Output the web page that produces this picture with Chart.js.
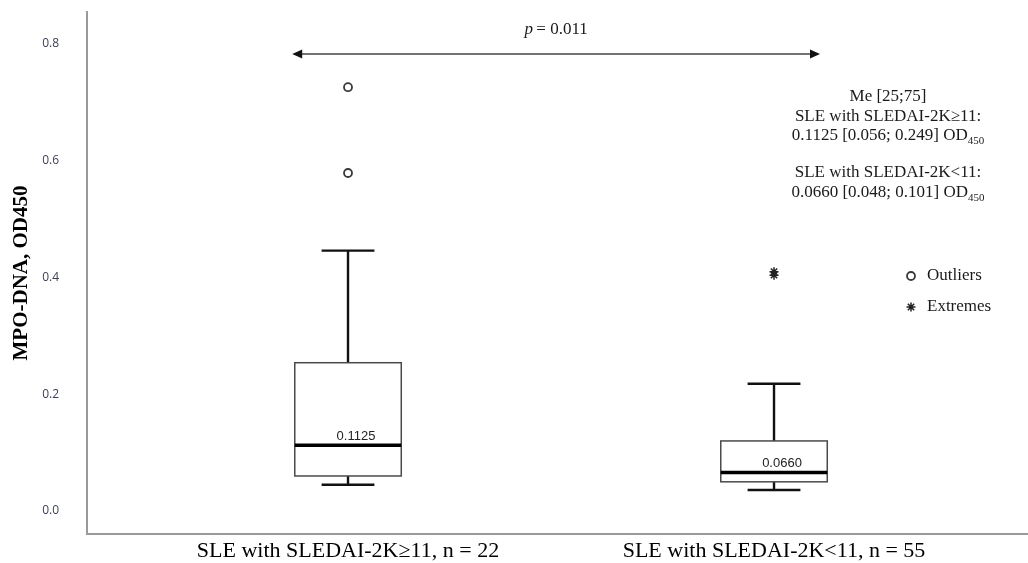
<!DOCTYPE html>
<html>
<head>
<meta charset="utf-8">
<script src="https://cdn.jsdelivr.net/npm/chart.js@4.4.0/dist/chart.umd.min.js"></script>
<style>
  html, body { margin: 0; padding: 0; background: #ffffff; }
  #wrap { width: 1028px; height: 563px; }
</style>
</head>
<body>
<div id="wrap"><canvas id="c" width="1028" height="563"></canvas></div>
<script>
// Groups and their box-plot summaries (MPO-DNA, OD450)
const groups = ['SLE with SLEDAI-2K\u226511, n = 22', 'SLE with SLEDAI-2K<11, n = 55'];
const groupPos = [1, 2];
const whiskerLow = [0.045, 0.036];
const quartile1 = [0.060, 0.050];
const medians = [0.1125, 0.0660];
const quartile3 = [0.254, 0.120];
const whiskerHigh = [0.446, 0.218];
const outlierValues = [[0.726, 0.579], []];
const extremeValues = [[], [0.404, 0.410]];
const yTicks = [0.0, 0.2, 0.4, 0.6, 0.8];
const pValue = '0.011';
const medianLabels = ['0.1125', '0.0660'];
const summaryTitle = 'Me [25;75]';
const summaryGroups = ['SLE with SLEDAI-2K\u226511:', 'SLE with SLEDAI-2K<11:'];
const summaryValues = ['0.1125 [0.056; 0.249] OD', '0.0660 [0.048; 0.101] OD'];
const legendLabels = ['Outliers', 'Extremes'];

const serif = '"Liberation Serif", "Times New Roman", serif';
const sans = '"Liberation Sans", Arial, sans-serif';

function toPoints(lists) {
  const pts = [];
  lists.forEach((vals, i) => vals.forEach(v => pts.push({ x: groupPos[i], y: v })));
  return pts;
}

const outlierStyle = { pointStyle: 'circle', radius: 4, borderWidth: 1.8, borderColor: '#3a3a3a', backgroundColor: '#ffffff' };
const extremeStyle = { pointStyle: 'star', radius: 4.5, borderWidth: 1.5, borderColor: '#222222', backgroundColor: '#222222' };

// Boxes, whiskers and median labels, drawn through the chart's scales
const boxPlugin = {
  id: 'boxes',
  beforeDatasetsDraw(chart) {
    const { ctx, scales: { x, y } } = chart;
    const halfBox = 0.125, halfCap = 0.062;
    ctx.save();
    groupPos.forEach((g, i) => {
      const cx = x.getPixelForValue(g);
      const bl = x.getPixelForValue(g - halfBox), br = x.getPixelForValue(g + halfBox);
      const cl = x.getPixelForValue(g - halfCap), cr = x.getPixelForValue(g + halfCap);
      const yLo = y.getPixelForValue(whiskerLow[i]);
      const yQ1 = y.getPixelForValue(quartile1[i]);
      const yMed = y.getPixelForValue(medians[i]);
      const yQ3 = y.getPixelForValue(quartile3[i]);
      const yHi = y.getPixelForValue(whiskerHigh[i]);

      // whiskers
      ctx.strokeStyle = '#111111';
      ctx.lineWidth = 2.4;
      ctx.beginPath();
      ctx.moveTo(cx, yQ3); ctx.lineTo(cx, yHi);
      ctx.moveTo(cl, yHi); ctx.lineTo(cr, yHi);
      ctx.moveTo(cx, yQ1); ctx.lineTo(cx, yLo);
      ctx.moveTo(cl, yLo); ctx.lineTo(cr, yLo);
      ctx.stroke();

      // box
      ctx.fillStyle = '#ffffff';
      ctx.fillRect(bl, yQ3, br - bl, yQ1 - yQ3);
      ctx.strokeStyle = '#4a4a4a';
      ctx.lineWidth = 1.5;
      ctx.strokeRect(bl, yQ3, br - bl, yQ1 - yQ3);

      // median
      ctx.strokeStyle = '#000000';
      ctx.lineWidth = 3.5;
      ctx.beginPath();
      ctx.moveTo(bl, yMed); ctx.lineTo(br, yMed);
      ctx.stroke();

      ctx.fillStyle = '#222222';
      ctx.font = '13px ' + sans;
      ctx.textAlign = 'center';
      ctx.textBaseline = 'alphabetic';
      ctx.fillText(medianLabels[i], cx + 8, yMed - 5);
    });
    ctx.restore();
  }
};

function drawWithSub(ctx, main, sub, cx, cy, size) {
  ctx.font = size + 'px ' + serif;
  const wMain = ctx.measureText(main).width;
  ctx.font = Math.round(size * 0.62) + 'px ' + serif;
  const wSub = ctx.measureText(sub).width;
  const left = cx - (wMain + wSub) / 2;
  ctx.textAlign = 'left';
  ctx.textBaseline = 'middle';
  ctx.font = size + 'px ' + serif;
  ctx.fillText(main, left, cy);
  ctx.font = Math.round(size * 0.62) + 'px ' + serif;
  ctx.fillText(sub, left + wMain, cy + size * 0.32);
}

// Significance arrow, summary text and legend
const notesPlugin = {
  id: 'notes',
  afterDraw(chart) {
    const { ctx, chartArea, scales: { x, y } } = chart;
    ctx.save();

    // double-headed arrow between the groups
    const ax1 = x.getPixelForValue(0.869), ax2 = x.getPixelForValue(2.108);
    const ay = y.getPixelForValue(0.783);
    ctx.strokeStyle = '#444444';
    ctx.fillStyle = '#111111';
    ctx.lineWidth = 1.5;
    ctx.beginPath();
    ctx.moveTo(ax1 + 6, ay); ctx.lineTo(ax2 - 6, ay);
    ctx.stroke();
    ctx.beginPath();
    ctx.moveTo(ax1, ay); ctx.lineTo(ax1 + 10, ay - 4.5); ctx.lineTo(ax1 + 10, ay + 4.5); ctx.closePath();
    ctx.fill();
    ctx.beginPath();
    ctx.moveTo(ax2, ay); ctx.lineTo(ax2 - 10, ay - 4.5); ctx.lineTo(ax2 - 10, ay + 4.5); ctx.closePath();
    ctx.fill();

    // p value
    const px = (ax1 + ax2) / 2, py = ay - 24;
    ctx.fillStyle = '#1a1a1a';
    ctx.textBaseline = 'middle';
    ctx.font = 'italic 17px ' + serif;
    const wp = ctx.measureText('p').width;
    ctx.font = '17px ' + serif;
    const rest = '\u2009= ' + pValue;
    const wr = ctx.measureText(rest).width;
    const pl = px - (wp + wr) / 2;
    ctx.textAlign = 'left';
    ctx.font = 'italic 17px ' + serif;
    ctx.fillText('p', pl, py);
    ctx.font = '17px ' + serif;
    ctx.fillText(rest, pl + wp, py);

    // median / quartile summary
    const sx = 888;
    const size = 17;
    ctx.textAlign = 'center';
    ctx.font = size + 'px ' + serif;
    ctx.fillText(summaryTitle, sx, 97);
    ctx.fillText(summaryGroups[0], sx, 117);
    drawWithSub(ctx, summaryValues[0], '450', sx, 136, size);
    ctx.textAlign = 'center';
    ctx.font = size + 'px ' + serif;
    ctx.fillText(summaryGroups[1], sx, 173);
    drawWithSub(ctx, summaryValues[1], '450', sx, 193, size);

    // legend
    const lx = 911;
    const rows = [276, 307];
    const styles = [outlierStyle, extremeStyle];
    rows.forEach((ly, i) => {
      const s = styles[i];
      ctx.lineWidth = s.borderWidth;
      ctx.strokeStyle = s.borderColor;
      ctx.fillStyle = s.backgroundColor;
      Chart.helpers.drawPoint(ctx, { pointStyle: s.pointStyle, radius: s.radius, borderWidth: s.borderWidth, rotation: 0 }, lx, ly);
      ctx.fillStyle = '#1a1a1a';
      ctx.font = '17px ' + serif;
      ctx.textAlign = 'left';
      ctx.textBaseline = 'middle';
      ctx.fillText(legendLabels[i], lx + 16, ly);
    });

    ctx.restore();
  }
};

new Chart(document.getElementById('c'), {
  type: 'scatter',
  data: {
    datasets: [
      Object.assign({ label: legendLabels[0], data: toPoints(outlierValues) }, outlierStyle),
      Object.assign({ label: legendLabels[1], data: toPoints(extremeValues) }, extremeStyle)
    ]
  },
  options: {
    responsive: false,
    animation: false,
    devicePixelRatio: 1,
    layout: { autoPadding: false, padding: { left: 0, top: 12, right: 0, bottom: 0 } },
    plugins: { legend: { display: false }, tooltip: { enabled: false } },
    scales: {
      x: {
        type: 'linear',
        min: 0.3873,
        max: 2.5962,
        grid: { display: false, drawTicks: false },
        border: { display: true, color: '#9a9a9a', width: 2 },
        afterBuildTicks(scale) { scale.ticks = groupPos.map(v => ({ value: v })); },
        afterFit(scale) {
          scale.height = 29;
          scale.paddingLeft = 0; scale.paddingRight = 0;
        },
        ticks: {
          padding: 6,
          color: '#000000',
          font: { family: serif, size: 22, lineHeight: 1.0 },
          callback: (v) => groups[groupPos.indexOf(v)] || ''
        }
      },
      y: {
        type: 'linear',
        min: -0.0394,
        max: 0.8548,
        grid: { display: false, drawTicks: false },
        border: { display: true, color: '#9a9a9a', width: 2 },
        afterBuildTicks(scale) { scale.ticks = yTicks.map(v => ({ value: v })); },
        afterFit(scale) {
          scale.width = 87;
          scale.paddingTop = 0; scale.paddingBottom = 0;
        },
        ticks: {
          padding: 28,
          color: '#3a3f55',
          font: { family: '"Open Sans", sans-serif', size: 12 },
          callback: (v) => Number(v).toFixed(1)
        },
        title: {
          display: true,
          text: 'MPO-DNA, OD450',
          color: '#000000',
          padding: { top: 9, bottom: 0 },
          font: { family: serif, size: 21, weight: 'bold' }
        }
      }
    }
  },
  plugins: [boxPlugin, notesPlugin]
});
</script>
</body>
</html>
